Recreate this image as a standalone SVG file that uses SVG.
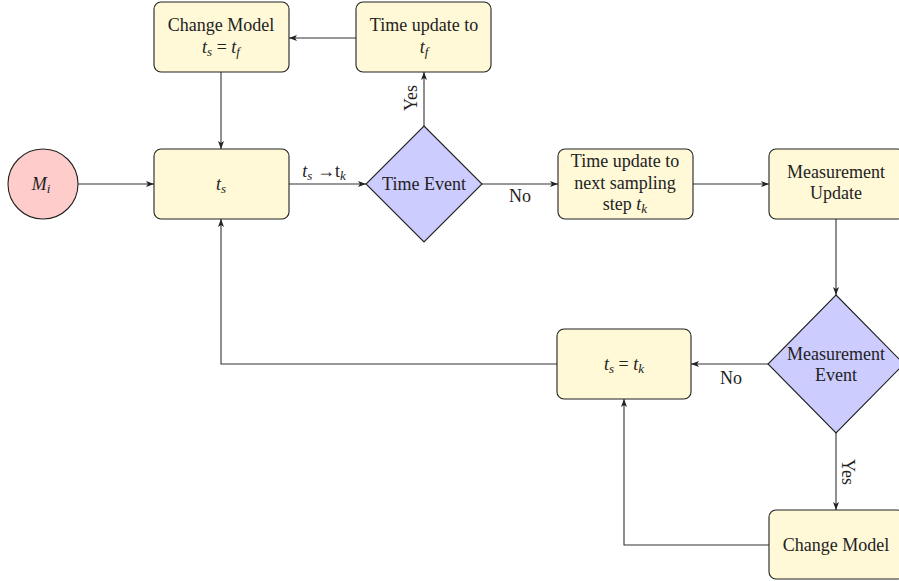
<svg xmlns="http://www.w3.org/2000/svg" width="899" height="581" viewBox="0 0 899 581">
<style>
.box{fill:#fff9d7;stroke:#222;stroke-width:1.1}
.dia{fill:#ccccff;stroke:#222;stroke-width:1.1}
.circ{fill:#ffcccc;stroke:#222;stroke-width:1.1}
.ln{fill:none;stroke:#333;stroke-width:1.1;marker-end:url(#ah)}
text{font-family:"Liberation Serif","DejaVu Serif","Times New Roman",serif;font-size:18px;fill:#222;text-anchor:middle}
.it{font-style:italic}
.sub{font-size:13px;font-style:italic}
</style>
<defs>
<marker id="ah" viewBox="0 0 8 6" refX="8" refY="3" markerWidth="8" markerHeight="6" markerUnits="userSpaceOnUse" orient="auto">
<path d="M0,0 L8,3 L0,6 L2,3 Z" fill="#222"/>
</marker>
</defs>
<g id="connectors">
<line class="ln" x1="78" y1="184" x2="154" y2="184"/>
<line class="ln" x1="221" y1="72" x2="221" y2="149"/>
<line class="ln" x1="356" y1="38" x2="289" y2="38"/>
<line class="ln" x1="289" y1="184" x2="366" y2="184"/>
<line class="ln" x1="424" y1="126" x2="424" y2="72"/>
<line class="ln" x1="482" y1="184" x2="558" y2="184"/>
<line class="ln" x1="693" y1="184" x2="769" y2="184"/>
<line class="ln" x1="836" y1="219" x2="836" y2="295"/>
<line class="ln" x1="768" y1="364" x2="691" y2="364"/>
<line class="ln" x1="836" y1="433" x2="836" y2="510"/>
<polyline class="ln" points="769,545 624,545 624,399"/>
<polyline class="ln" points="557,364 221,364 221,219"/>
<text x="324" y="177"><tspan class="it">t</tspan><tspan class="sub" dy="3">s</tspan><tspan dy="-3"> →t</tspan><tspan class="sub" dy="3">k</tspan></text>
<text x="0" y="0" transform="translate(417,98) rotate(-90)">Yes</text>
<text x="520" y="202">No</text>
<text x="731" y="384">No</text>
<text x="0" y="0" transform="translate(842,472) rotate(90)">Yes</text>
</g>
<g id="Mi">
<circle class="circ" cx="43" cy="184" r="35"/>
<text x="41" y="190"><tspan class="it">M</tspan><tspan class="sub" dy="3">i</tspan></text>
</g>
<g id="changeModelTop">
<rect class="box" x="154" y="2" width="135" height="70" rx="7"/>
<text x="221" y="31">Change Model</text>
<text x="221" y="53"><tspan class="it">t</tspan><tspan class="sub" dy="3">s</tspan><tspan dy="-3"> = </tspan><tspan class="it">t</tspan><tspan class="sub" dy="3">f</tspan></text>
</g>
<g id="timeUpdateTf">
<rect class="box" x="356" y="2" width="135" height="70" rx="7"/>
<text x="424" y="31">Time update to</text>
<text x="424" y="53"><tspan class="it">t</tspan><tspan class="sub" dy="3">f</tspan></text>
</g>
<g id="ts">
<rect class="box" x="154" y="149" width="135" height="70" rx="7"/>
<text x="221" y="190"><tspan class="it">t</tspan><tspan class="sub" dy="3">s</tspan></text>
</g>
<g id="timeEvent">
<polygon class="dia" points="424,126 482,184 424,242 366,184"/>
<text x="424" y="190">Time Event</text>
</g>
<g id="timeUpdateTk">
<rect class="box" x="558" y="149" width="135" height="70" rx="7"/>
<text x="625" y="167">Time update to</text>
<text x="625" y="189">next sampling</text>
<text x="625" y="210">step <tspan class="it">t</tspan><tspan class="sub" dy="3">k</tspan></text>
</g>
<g id="measurementUpdate">
<rect class="box" x="769" y="149" width="135" height="70" rx="7"/>
<text x="836" y="178">Measurement</text>
<text x="836" y="199">Update</text>
</g>
<g id="measurementEvent">
<polygon class="dia" points="836,295 904,364 836,433 768,364"/>
<text x="836" y="360">Measurement</text>
<text x="836" y="381">Event</text>
</g>
<g id="tsEqTk">
<rect class="box" x="557" y="329" width="134" height="70" rx="7"/>
<text x="624" y="370"><tspan class="it">t</tspan><tspan class="sub" dy="3">s</tspan><tspan dy="-3"> = </tspan><tspan class="it">t</tspan><tspan class="sub" dy="3">k</tspan></text>
</g>
<g id="changeModelBottom">
<rect class="box" x="769" y="510" width="135" height="69" rx="7"/>
<text x="836" y="551">Change Model</text>
</g>
</svg>
